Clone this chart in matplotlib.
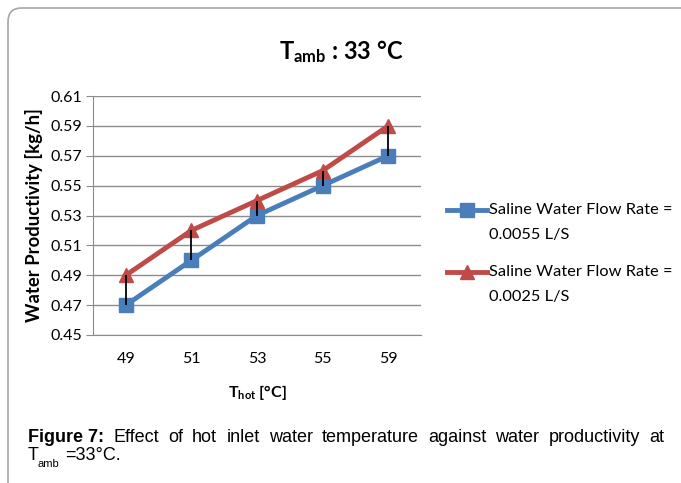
import matplotlib
matplotlib.use("Agg")
import matplotlib.pyplot as plt
from matplotlib.patches import FancyBboxPatch
from matplotlib.lines import Line2D

plt.rcParams["mathtext.fontset"] = "custom"
plt.rcParams["mathtext.rm"] = "Lato"
plt.rcParams["mathtext.bf"] = "Lato:bold"
plt.rcParams["mathtext.it"] = "Lato:italic"

categories = ["49", "51", "53", "55", "59"]
flow_0055 = [0.47, 0.50, 0.53, 0.55, 0.57]
flow_0025 = [0.49, 0.52, 0.54, 0.56, 0.59]
yticks = [0.45, 0.47, 0.49, 0.51, 0.53, 0.55, 0.57, 0.59, 0.61]
labels = ["Saline Water Flow Rate =\n0.0055 L/S", "Saline Water Flow Rate =\n0.0025 L/S"]
caption_words = ["Effect", "of", "hot", "inlet", "water", "temperature", "against", "water",
                 "productivity", "at"]

W, H = 681, 483
fig = plt.figure(figsize=(W / 100, H / 100), dpi=100)
font = "Lato"

def fx(px):
    return px / W

def fy(py):
    return 1 - py / H

# outer border box
box = FancyBboxPatch((fx(8), -0.2), 1.2, (H - 8) / H + 0.2, boxstyle="round,pad=0,rounding_size=0.02",
                     transform=fig.transFigure, fill=False, edgecolor="#a6a6a6", linewidth=1.2,
                     mutation_aspect=W / H)
fig.patches.append(box)

ax = fig.add_axes([fx(93), fy(335), (421 - 93) / W, (335 - 96) / H])
x = list(range(len(categories)))
blue = "#4a7ebb"
red = "#be4b48"
ax.plot(x, flow_0055, color=blue, linewidth=3.5, marker="s", markersize=10, zorder=3)
ax.plot(x, flow_0025, color=red, linewidth=3.5, marker="^", markersize=10, zorder=3)
ax.vlines(x, flow_0055, flow_0025, color="black", linewidth=1.3, zorder=5)

ax.set_xlim(-0.5, len(categories) - 0.5)
ax.set_ylim(yticks[0], yticks[-1])
ax.set_yticks(yticks)
ax.set_yticklabels([f"{v:.2f}" for v in yticks], fontfamily=font, fontsize=11.5)
ax.set_xticks(x)
ax.set_xticklabels(categories, fontfamily=font, fontsize=11.5)
ax.yaxis.grid(True, color="#8c8c8c", linewidth=1)
ax.set_axisbelow(True)
for s in ["top", "right"]:
    ax.spines[s].set_visible(False)
ax.spines["left"].set_color("#8c8c8c")
ax.spines["bottom"].set_color("#8c8c8c")
ax.tick_params(axis="y", length=5, color="#8c8c8c", pad=3)
ax.tick_params(axis="x", length=0, pad=12)

ax.set_ylabel("Water Productivity [kg/h]", fontfamily=font, fontweight="bold", fontsize=13.3, labelpad=5)
fig.text(fx(257), fy(393), r"T$_{\mathbf{hot}}$ [°C]", fontfamily=font, fontweight="bold",
         fontsize=11.5, ha="center", va="center")
fig.text(fx(341), fy(52), r"T$_{\mathbf{amb}}$ : 33 °C", fontfamily=font, fontweight="bold",
         fontsize=17, ha="center", va="center")

# legend (manual placement)
leg_font = 11.8
for i, (col, mk, lab) in enumerate([(blue, "s", labels[0]), (red, "^", labels[1])]):
    yy = 210 + i * 62
    fig.add_artist(Line2D([fx(447), fx(487)], [fy(yy), fy(yy)], color=col, linewidth=3.5,
                          transform=fig.transFigure))
    fig.add_artist(Line2D([fx(467)], [fy(yy)], color=col, marker=mk, markersize=10,
                          transform=fig.transFigure))
    l1, l2 = lab.split("\n")
    fig.text(fx(489), fy(yy), l1, fontfamily=font, fontsize=leg_font, ha="left", va="center")
    fig.text(fx(489), fy(yy + 25), l2, fontfamily=font, fontsize=leg_font, ha="left", va="center")

# caption, justified on the first line
cap_fs = 13
cap_font = "Liberation Sans"
fig.canvas.draw()
renderer = fig.canvas.get_renderer()
first = fig.text(fx(28), fy(437), "Figure 7:", fontfamily=cap_font, fontweight="bold",
                 fontsize=cap_fs, ha="left", va="center")
word_texts = [fig.text(0, fy(437), w, fontfamily=cap_font, fontsize=cap_fs, ha="left", va="center")
              for w in caption_words]
fw = first.get_window_extent(renderer).width
widths = [t.get_window_extent(renderer).width for t in word_texts]
left, right = 28, 664
total = fw + sum(widths)
gap = (right - left - total) / len(caption_words)
pos = left + fw + gap
for t, wdt in zip(word_texts, widths):
    t.set_x(fx(pos))
    pos += wdt + gap

fig.text(fx(28), fy(456), "T", fontfamily=cap_font, fontsize=cap_fs, ha="left", va="center")
fig.text(fx(38), fy(464), "amb", fontfamily=cap_font, fontsize=8, ha="left", va="center")
fig.text(fx(65), fy(456), "=33°C.", fontfamily=cap_font, fontsize=cap_fs, ha="left", va="center")

fig.savefig("out.png", dpi=100)
